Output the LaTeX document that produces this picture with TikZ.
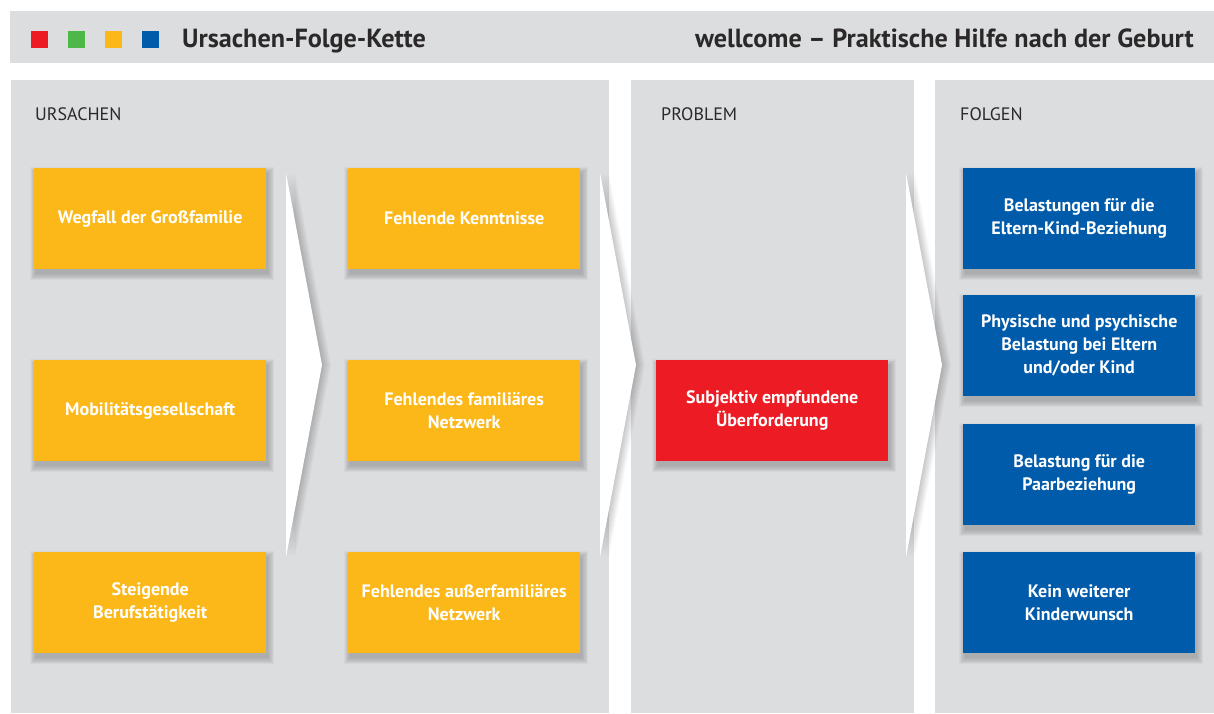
\documentclass[tikz,border=0pt]{standalone}
\usepackage{fontspec}
\setmainfont{PT Sans}
\definecolor{bggray}{HTML}{DCDDDF}
\definecolor{cOrange}{HTML}{FBB818}
\definecolor{cRed}{HTML}{ED1C24}
\definecolor{cBlue}{HTML}{005BAA}
\definecolor{cGreen}{HTML}{4DB848}
\definecolor{cText}{HTML}{2A2829}
\tikzset{
  panel/.style={fill=bggray, draw=none},
  sq/.style={minimum width=17pt, minimum height=17pt, inner sep=0pt, anchor=north west},
  box/.style={minimum width=232pt, minimum height=101pt, inner sep=0pt, align=center,
    text=white, font=\fontsize{18}{23}\selectfont\bfseries, anchor=north west},
  obox/.style={box, fill=cOrange},
  rbox/.style={box, fill=cRed},
  bbox/.style={box, fill=cBlue},
  sectlabel/.style={anchor=base west, inner sep=0pt, text=cText, font=\fontsize{18}{20}\selectfont},
  titlelabel/.style={inner sep=0pt, text=cText, font=\fontsize{26.2}{30}\selectfont\bfseries},
  chev/.style={fill=white, draw=none},
}
\newcommand\softshadow[4]{%
  \foreach \k in {0,...,7}{%
    \fill[black,opacity=0.026] ({#1+2-\k*0.9},{#2+5-\k*0.9}) rectangle ({#3+2+\k*0.9},{#4+5+\k*0.9});}}
\newcommand\chevron[2]{% left x, name
  \foreach \k in {1,...,9}{%
    \fill[black,opacity=0.022] ({#1+\k},173) -- ({#1+36+\k},365) -- ({#1+\k},557) -- cycle;}
  \fill[chev] (#1,173) coordinate (#2-top) -- ({#1+36},365) coordinate (#2-tip) -- (#1,557) coordinate (#2-bot) -- cycle;}
\begin{document}
\begin{tikzpicture}[x=1pt,y=-1pt]
\useasboundingbox (0,0) rectangle (1214,713);
\fill[white] (0,0) rectangle (1214,713);
% header
\fill[panel] (10,11) rectangle (1214,63);
\node[sq, fill=cRed]    (sqR) at (31,31) {};
\node[sq, fill=cGreen]  (sqG) at (68,31) {};
\node[sq, fill=cOrange] (sqO) at (105,31) {};
\node[sq, fill=cBlue]   (sqB) at (142,31) {};
\node[titlelabel, anchor=base west] (title) at (182,47) {Ursachen-Folge-Kette};
\node[titlelabel, anchor=base east] (subtitle) at (1194,47) {wellcome – Praktische Hilfe nach der Geburt};
% panels
\fill[panel] (11,80) rectangle (609,713);
\fill[panel] (631,80) rectangle (914,713);
\fill[panel] (935,80) rectangle (1214,713);
\node[sectlabel] (lU) at (35,120) {URSACHEN};
\node[sectlabel] (lP) at (661,120) {PROBLEM};
\node[sectlabel] (lF) at (960,120) {FOLGEN};
% chevrons
\chevron{286}{c1}
\chevron{600}{c2}
\chevron{906}{c3}
% shadows
\foreach \y in {168,360,552}{\softshadow{34}{\y}{266}{\y+101}\softshadow{348}{\y}{580}{\y+101}}
\softshadow{656}{360}{888}{461}
\foreach \y in {168,295,424,552}{\softshadow{963}{\y}{1195}{\y+101}}
% boxes
\node[obox] (a1) at (34,168) {Wegfall der Großfamilie};
\node[obox] (a2) at (34,360) {Mobilitätsgesellschaft};
\node[obox] (a3) at (34,552) {Steigende\\Berufstätigkeit};
\node[obox] (b1) at (348,168) {Fehlende Kenntnisse};
\node[obox] (b2) at (348,360) {Fehlendes familiäres\\Netzwerk};
\node[obox] (b3) at (348,552) {Fehlendes außerfamiliäres\\Netzwerk};
\node[rbox] (p1) at (656,360) {Subjektiv empfundene\\Überforderung};
\node[bbox] (f1) at (963,168) {Belastungen für die\\Eltern-Kind-Beziehung};
\node[bbox] (f2) at (963,295) {Physische und psychische\\Belastung bei Eltern\\und/oder Kind};
\node[bbox] (f3) at (963,424) {Belastung für die\\Paarbeziehung};
\node[bbox] (f4) at (963,552) {Kein weiterer\\Kinderwunsch};
\end{tikzpicture}
\end{document}
